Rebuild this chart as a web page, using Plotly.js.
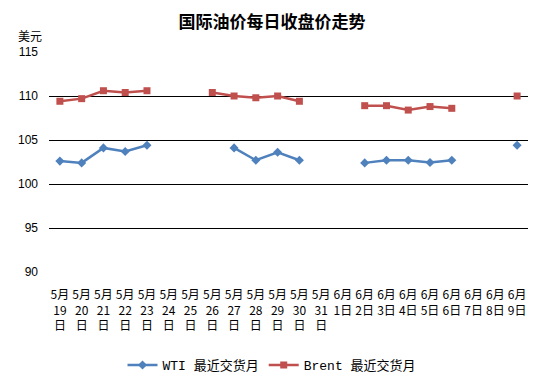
<!DOCTYPE html>
<html>
<head>
<meta charset="utf-8">
<script src="https://cdn.plot.ly/plotly-3.0.1.min.js"></script>
<style>html,body{margin:0;padding:0;background:#fff;}#chart{width:544px;height:384px;}</style>
</head>
<body>
<div id="chart"></div>
<script>
const categories = ["5月19日","5月20日","5月21日","5月22日","5月23日","5月24日","5月25日","5月26日","5月27日","5月28日","5月29日","5月30日","5月31日","6月1日","6月2日","6月3日","6月4日","6月5日","6月6日","6月7日","6月8日","6月9日"];
const tickLabels = ["5月<br>19<br>日","5月<br>20<br>日","5月<br>21<br>日","5月<br>22<br>日","5月<br>23<br>日","5月<br>24<br>日","5月<br>25<br>日","5月<br>26<br>日","5月<br>27<br>日","5月<br>28<br>日","5月<br>29<br>日","5月<br>30<br>日","5月<br>31<br>日","6月<br>1日","6月<br>2日","6月<br>3日","6月<br>4日","6月<br>5日","6月<br>6日","6月<br>7日","6月<br>8日","6月<br>9日"];
const wti = [102.6, 102.4, 104.1, 103.7, 104.4, null, null, null, 104.1, 102.7, 103.6, 102.7, null, null, 102.4, 102.7, 102.7, 102.45, 102.7, null, null, 104.4];
const brent = [109.4, 109.7, 110.6, 110.4, 110.6, null, null, 110.4, 110.0, 109.8, 110.0, 109.4, null, null, 108.9, 108.9, 108.4, 108.8, 108.6, null, null, 110.0];
const yTicks = [90, 95, 100, 105, 110, 115];

const legendFont = {family: "Liberation Mono, 'Noto Sans CJK SC', monospace", size: 13, color: "#000"};

const traces = [
  {x: categories, y: wti, name: "WTI 最近交货月", type: "scatter", mode: "lines+markers",
   line: {color: "#4F81BD", width: 2.5}, marker: {symbol: "diamond", size: 7, color: "#4F81BD"}, connectgaps: false},
  {x: categories, y: brent, name: "Brent 最近交货月", type: "scatter", mode: "lines+markers",
   line: {color: "#C0504D", width: 2.5}, marker: {symbol: "square", size: 7, color: "#C0504D"}, connectgaps: false}
];

const layout = {
  width: 544, height: 384,
  margin: {l: 49, r: 16, t: 52, b: 112},
  paper_bgcolor: "#fff", plot_bgcolor: "#fff",
  title: {text: "<b>国际油价每日收盘价走势</b>", x: 0.5, xanchor: "center", yref: "container", y: 1 - 22 / 384, yanchor: "middle",
          font: {family: "'Noto Sans CJK SC', sans-serif", size: 17, color: "#000"}},
  showlegend: true,
  legend: {orientation: "h", xref: "container", x: 272 / 544, xanchor: "center", yref: "container", y: 1 - 365 / 384, yanchor: "middle",
           font: legendFont, bgcolor: "rgba(0,0,0,0)", itemwidth: 30},
  xaxis: {type: "category", tickmode: "array", tickvals: categories, ticktext: tickLabels,
          range: [-0.5, 21.5], tickangle: 0, showgrid: false, zeroline: false, showline: false,
          ticks: "", ticklabelstandoff: 14, automargin: false,
          tickfont: {family: "'Noto Sans CJK SC', 'Liberation Sans', sans-serif", size: 12, color: "#000"}},
  yaxis: {range: [90, 115], tickvals: yTicks, showgrid: true, gridcolor: "#000", gridwidth: 1,
          zeroline: false, showline: false, ticks: "", ticklabelstandoff: 10, automargin: false,
          tickfont: {family: "'Liberation Sans', Arial, sans-serif", size: 12, color: "#000"}},
  annotations: [
    {text: "美元", xref: "paper", yref: "paper", x: (30 - 49) / 479, y: 1 + (52 - 36) / 220,
     xanchor: "center", yanchor: "middle", showarrow: false,
     font: {family: "'Noto Sans CJK SC', sans-serif", size: 12, color: "#000"}}
  ]
};

Plotly.newPlot("chart", traces, layout, {displayModeBar: false, staticPlot: true});
</script>
</body>
</html>
